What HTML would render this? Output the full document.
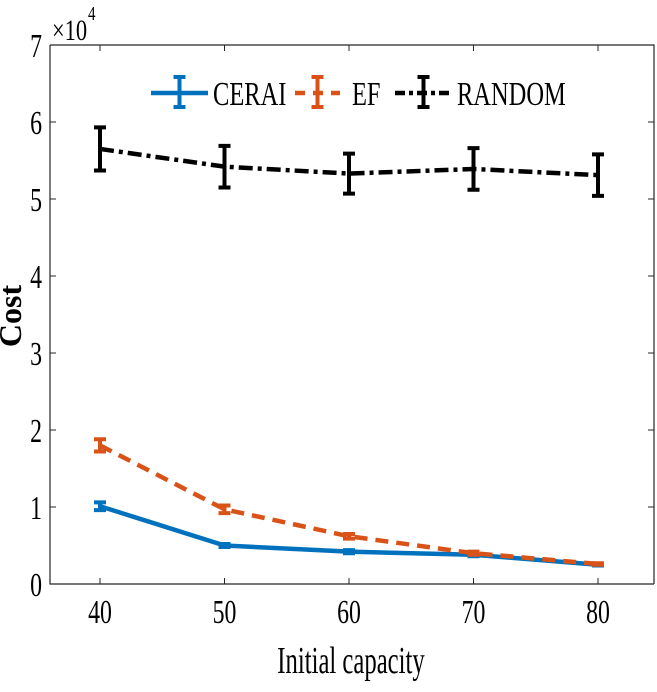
<!DOCTYPE html>
<html><head><style>
body{margin:0;background:#fff;}
svg text{font-family:"Liberation Serif",serif;}
</style></head><body>
<svg width="657" height="687">
<g id="plot"></g>
</svg>
<script>
const categories=[40,50,60,70,80];
const ceraiVals=[1.01,0.50,0.42,0.38,0.25];
const ceraiErr=[0.05,0.02,0.02,0.02,0.01];
const efVals=[1.80,0.97,0.62,0.40,0.26];
const efErr=[0.08,0.05,0.03,0.02,0.01];
const randomVals=[5.65,5.42,5.33,5.39,5.31];
const randomErr=[0.28,0.27,0.26,0.27,0.27];
const yTicks=[0,1,2,3,4,5,6,7];
const xTicks=[40,50,60,70,80];
const X=v=>100+(v-40)*12.45;
const Y=v=>584-v*77;
const NS='http://www.w3.org/2000/svg';
const g=document.getElementById('plot');
function mk(t,a,p){const e=document.createElementNS(NS,t);for(const k in a)e.setAttribute(k,a[k]);(p||g).appendChild(e);return e;}
let ax=mk('path',{d:'M50,45 L50,584 L654,584 M50,45 L654,45 L654,584',stroke:'#262626',fill:'none','stroke-width':1.2});


yTicks.forEach(v=>{
 mk('line',{x1:50,x2:56,y1:Y(v),y2:Y(v),stroke:'#262626'});
 mk('line',{x1:648,x2:654,y1:Y(v),y2:Y(v),stroke:'#262626'});
 const t=mk('text',{x:42/0.7,y:Y(v)+12,'text-anchor':'end','font-size':34,transform:'scale(0.7,1)'});
 t.textContent=v;
 
 
});
xTicks.forEach(v=>{
 mk('line',{x1:X(v),x2:X(v),y1:584,y2:578,stroke:'#262626'});
 mk('line',{x1:X(v),x2:X(v),y1:45,y2:51,stroke:'#262626'});
 const t=mk('text',{x:X(v)/0.7,y:623,'text-anchor':'middle','font-size':34,transform:'scale(0.7,1)'});
 t.textContent=v;
 
 
});
let ex=mk('text',{x:52/0.75,y:40,'font-size':30,transform:'scale(0.75,1)'});ex.textContent='×10';


let ex2=mk('text',{x:88/0.75,y:20,'font-size':20,transform:'scale(0.75,1)'});ex2.textContent='4';


let xl=mk('text',{x:351/0.65,y:673,'text-anchor':'middle','font-size':38,transform:'scale(0.65,1)'});xl.textContent='Initial capacity';


let yl=mk('text',{x:0,y:0,'text-anchor':'middle','font-size':32,'font-weight':'bold',transform:'translate(21,316) rotate(-90)'});yl.textContent='Cost';


function series(vals,err,color,dash,name){
 const p=mk('polyline',{points:vals.map((v,i)=>X(categories[i])+','+Y(v)).join(' '),fill:'none',stroke:color,'stroke-width':4.5,'stroke-dasharray':dash});
 
 
 vals.forEach((v,i)=>{
  const x=X(categories[i]),a=Y(v+err[i]),b=Y(v-err[i]);
  const e=mk('path',{d:`M${x},${a}L${x},${b}M${x-6},${a}L${x+6},${a}M${x-6},${b}L${x+6},${b}`,stroke:color,'stroke-width':4,fill:'none'});
  
  
 });
}
series(ceraiVals,ceraiErr,'#0072BD','','cerai');
series(efVals,efErr,'#D95319','13,8','ef');
series(randomVals,randomErr,'#000','14,5,4,5','random');
function leg(x1,x2,tx,color,dash,label,name){
 const y=93,m=(x1+x2)/2;
 const l=mk('line',{x1:x1,x2:x2,y1:y,y2:y,stroke:color,'stroke-width':4.5,'stroke-dasharray':dash});
 
 
 mk('path',{d:`M${m},${y-16}L${m},${y+14}M${m-6},${y-16}L${m+6},${y-16}M${m-6},${y+14}L${m+6},${y+14}`,stroke:color,'stroke-width':4});
 const t=mk('text',{x:tx/0.72,y:y+12,'font-size':34,transform:'scale(0.72,1)'});t.textContent=label;
 
 
}
leg(151,208,213,'#0072BD','','CERAI','cerai');
leg(295,340,352,'#D95319','10,8','EF','ef');
leg(395,452,457,'#000','10,4,4,4','RANDOM','random');
</script>
</body></html>
